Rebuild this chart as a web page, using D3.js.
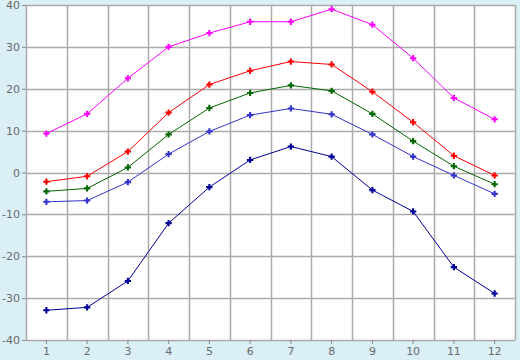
<!DOCTYPE html>
<html>
<head>
<meta charset="utf-8">
<script src="https://cdn.jsdelivr.net/npm/d3@7"></script>
<style>
  body { margin: 0; background: #daeff6; }
  svg text { font-family: "DejaVu Sans", Verdana, sans-serif; font-size: 11px; fill: #6b6b6b; }
</style>
</head>
<body>
<div id="chart"></div>
<script>
// months along the x axis
var months = [1, 2, 3, 4, 5, 6, 7, 8, 9, 10, 11, 12];
var yTicks = [-40, -30, -20, -10, 0, 10, 20, 30, 40];

// one array per line
var recordHigh = [9.3, 14, 22.5, 30, 33.3, 36, 36, 39, 35.3, 27.3, 17.8, 12.7];
var meanHigh   = [-2.2, -0.9, 5, 14.3, 21, 24.3, 26.5, 25.8, 19.3, 12, 4, -0.7];
var meanTemp   = [-4.5, -3.8, 1.2, 9.1, 15.4, 19, 20.8, 19.5, 14, 7.5, 1.5, -2.8];
var meanLow    = [-7, -6.7, -2.3, 4.4, 9.8, 13.7, 15.3, 13.9, 9.1, 3.8, -0.7, -5.1];
var recordLow  = [-32.9, -32.2, -25.9, -12.1, -3.5, 3, 6.2, 3.8, -4.2, -9.3, -22.6, -28.9];

var series = [
  {values: recordHigh, color: "#ff00ff"},
  {values: meanHigh,   color: "#ff0000"},
  {values: meanTemp,   color: "#006600"},
  {values: meanLow,    color: "#3333cc"},
  {values: recordLow,  color: "#000099"}
];

var width = 520, height = 360,
    plotLeft = 26, plotRight = 515, plotTop = 5, plotBottom = 340;

var svg = d3.select("#chart")
  .append("svg")
  .attr("width", width)
  .attr("height", height);

var x = d3.scaleBand()
  .domain(months)
  .range([plotLeft, plotRight]);

var y = d3.scaleLinear()
  .domain([-40, 40])
  .range([plotBottom, plotTop]);

// plot background
svg.append("rect")
  .attr("x", plotLeft)
  .attr("y", plotTop)
  .attr("width", plotRight - plotLeft)
  .attr("height", plotBottom - plotTop)
  .attr("fill", "#ffffff");

// horizontal grid
svg.append("g")
  .selectAll("line")
  .data(yTicks)
  .enter()
  .append("line")
  .attr("x1", plotLeft)
  .attr("x2", plotRight)
  .attr("y1", function(d) { return Math.round(y(d)) + 0.5; })
  .attr("y2", function(d) { return Math.round(y(d)) + 0.5; })
  .attr("stroke", "#aaaaaa")
  .attr("stroke-width", 1.5);

// vertical grid, at band edges
var edges = months.map(function(m) { return x(m); }).concat([plotRight]);
svg.append("g")
  .selectAll("line")
  .data(edges)
  .enter()
  .append("line")
  .attr("x1", function(d) { return Math.round(d) + 0.5; })
  .attr("x2", function(d) { return Math.round(d) + 0.5; })
  .attr("y1", plotTop)
  .attr("y2", plotBottom)
  .attr("stroke", "#aaaaaa")
  .attr("stroke-width", 1.5);

// y axis
var yAxis = svg.append("g")
  .attr("transform", "translate(" + plotLeft + ",0)")
  .call(d3.axisLeft(y).tickValues(yTicks).tickSize(4).tickPadding(2).tickFormat(function(d) { return String(d); }));
yAxis.select(".domain").remove();
yAxis.selectAll("line").attr("stroke", "#888888");

// x axis
var xAxis = svg.append("g")
  .attr("transform", "translate(0," + plotBottom + ")")
  .call(d3.axisBottom(x).tickSize(4).tickPadding(3));
xAxis.select(".domain").remove();
xAxis.selectAll("line").attr("stroke", "#888888");

var line = d3.line()
  .x(function(d, i) { return x(months[i]) + x.bandwidth() / 2; })
  .y(function(d) { return y(d); });

var marker = d3.symbol().type(d3.symbolCross).size(22);

series.forEach(function(s) {
  svg.append("path")
    .datum(s.values)
    .attr("d", line)
    .attr("fill", "none")
    .attr("stroke", s.color)
    .attr("stroke-width", 1);

  svg.append("g")
    .selectAll("path")
    .data(s.values)
    .enter()
    .append("path")
    .attr("d", marker)
    .attr("transform", function(d, i) {
      return "translate(" + (x(months[i]) + x.bandwidth() / 2) + "," + y(d) + ")";
    })
    .attr("fill", s.color);
});
</script>
</body>
</html>
